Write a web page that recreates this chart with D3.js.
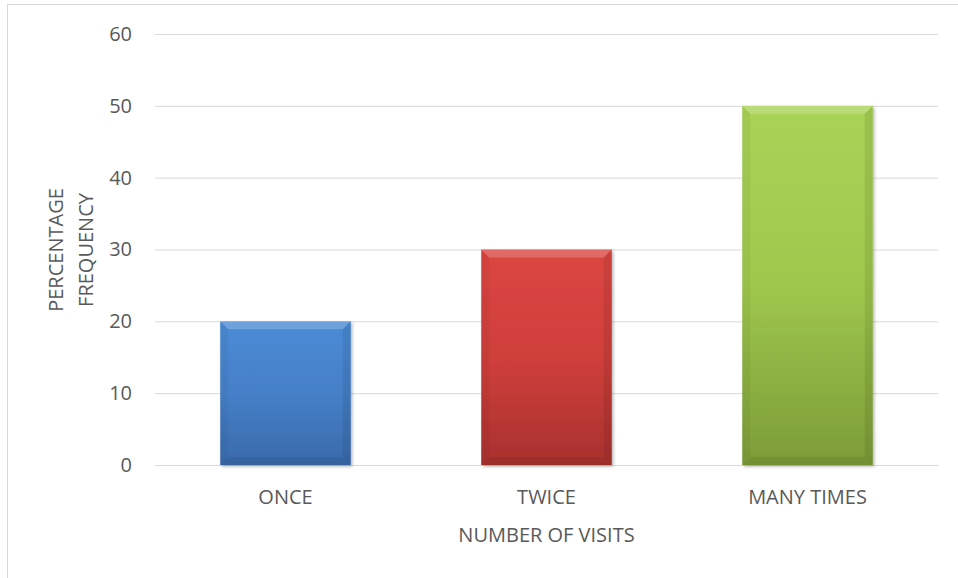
<!DOCTYPE html>
<html><head><meta charset="utf-8">
<script src="https://cdn.jsdelivr.net/npm/d3@7"></script>
<style>body{margin:0;background:#fff}svg{display:block}text{font-family:"Open Sans",sans-serif;fill:#595959}</style>
</head><body>
<script>
const categories = ["ONCE", "TWICE", "MANY TIMES"];
const values = [20, 30, 50];
const yTicks = [0, 10, 20, 30, 40, 50, 60];
const colors = [
  {top:"#4b8bd6", mid:"#4580c8", bot:"#3a6aab"},
  {top:"#dc4642", mid:"#cf3f3b", bot:"#a8312e"},
  {top:"#a9d356", mid:"#9fc74d", bot:"#7c9c38"}
];
const FS = 20;
const W = 958, H = 578;
const svg = d3.select("body").append("svg").attr("width", W).attr("height", H);
const defs = svg.append("defs");
colors.forEach((c,i)=>{
  const g = defs.append("linearGradient").attr("id","g"+i).attr("x1",0).attr("y1",0).attr("x2",0).attr("y2",1);
  g.append("stop").attr("offset","0%").attr("stop-color",c.top);
  g.append("stop").attr("offset","50%").attr("stop-color",c.mid);
  g.append("stop").attr("offset","100%").attr("stop-color",c.bot);
});
const f = defs.append("filter").attr("id","sh").attr("x","-10%").attr("y","-10%").attr("width","130%").attr("height","130%");
f.append("feDropShadow").attr("dx",1.5).attr("dy",1.5).attr("stdDeviation",1.5).attr("flood-color","#000").attr("flood-opacity",0.3);

svg.append("rect").attr("x",7.5).attr("y",4.5).attr("width",W).attr("height",H).attr("fill","#fff").attr("stroke","#d9d9d9");

const m = {l:155, r:938, t:34, b:465};
const x = d3.scaleBand().domain(categories).range([m.l, m.r]).paddingInner(0.5).paddingOuter(0.25);
const y = d3.scaleLinear().domain([0,60]).range([m.b, m.t]);

const ya = svg.append("g").attr("transform",`translate(${m.l},0)`)
  .call(d3.axisLeft(y).tickValues(yTicks).tickSize(-(m.r-m.l)).tickPadding(23));
ya.select(".domain").remove();
ya.selectAll("line").attr("stroke","#d9d9d9").attr("stroke-width",1);
ya.selectAll("text").attr("font-size",FS).attr("fill","#595959").style("font-family","'Open Sans',sans-serif");

const xa = svg.append("g").attr("transform",`translate(0,${m.b})`)
  .call(d3.axisBottom(x).tickSize(0));
xa.select(".domain").attr("stroke","#d9d9d9");
xa.selectAll("text").attr("y",39).attr("dy",null).attr("font-size",FS).attr("fill","#595959").style("font-family","'Open Sans',sans-serif");

const bars = svg.append("g").selectAll("g").data(values).join("g");
bars.append("rect")
  .attr("x",(d,i)=>x(categories[i])).attr("y",d=>y(d))
  .attr("width",x.bandwidth()).attr("height",d=>y(0)-y(d))
  .attr("fill",(d,i)=>`url(#g${i})`).attr("filter","url(#sh)");
const bv = 8;
bars.append("path").attr("d",(d,i)=>{
  const x0=x(categories[i]), x1=x0+x.bandwidth(), y0=y(d);
  return `M${x0},${y0}L${x1},${y0}L${x1-bv},${y0+bv}L${x0+bv},${y0+bv}Z`;
}).attr("fill","#fff").attr("opacity",0.2);
bars.append("path").attr("d",(d,i)=>{
  const x0=x(categories[i]), y0=y(d), y1=y(0);
  return `M${x0},${y0}L${x0+bv},${y0+bv}L${x0+bv},${y1-bv}L${x0},${y1}Z`;
}).attr("fill","#000").attr("opacity",0.04);
bars.append("path").attr("d",(d,i)=>{
  const x1=x(categories[i])+x.bandwidth(), y0=y(d), y1=y(0);
  return `M${x1},${y0}L${x1-bv},${y0+bv}L${x1-bv},${y1-bv}L${x1},${y1}Z`;
}).attr("fill","#000").attr("opacity",0.08);
bars.append("path").attr("d",(d,i)=>{
  const x0=x(categories[i]), x1=x0+x.bandwidth(), y1=y(0);
  return `M${x0},${y1}L${x1},${y1}L${x1-bv},${y1-bv}L${x0+bv},${y1-bv}Z`;
}).attr("fill","#000").attr("opacity",0.07);

svg.append("text").attr("x",(m.l+m.r)/2).attr("y",542).attr("text-anchor","middle").attr("font-size",FS).text("NUMBER OF VISITS");
const yt = svg.append("text").attr("transform","translate(0,250) rotate(-90)").attr("text-anchor","middle").attr("font-size",FS);
yt.append("tspan").attr("x",0).attr("y",63).text("PERCENTAGE");
yt.append("tspan").attr("x",0).attr("y",93).text("FREQUENCY");
</script>
</body></html>
